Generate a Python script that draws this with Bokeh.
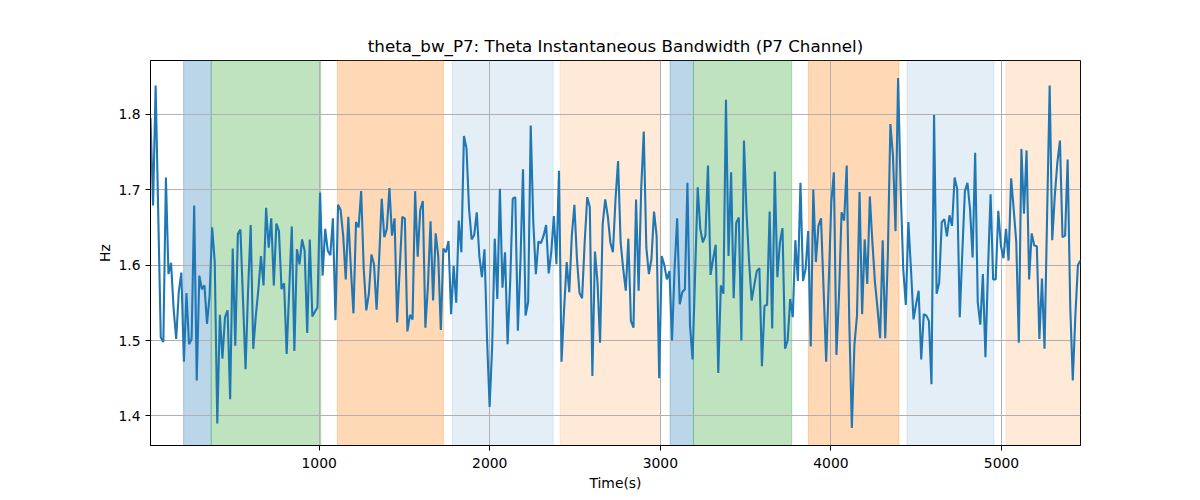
import numpy as np
from bokeh.plotting import figure
from bokeh.models import Range1d, FixedTicker, BoxAnnotation
from bokeh.embed import file_html
from bokeh.resources import INLINE

# Theta instantaneous bandwidth (Hz), P7 channel
theta_bw = [
    1.795, 1.679, 1.838, 1.670, 1.504, 1.498, 1.716, 1.588, 1.603, 1.542,
    1.502, 1.564, 1.590, 1.472, 1.563, 1.495, 1.502, 1.679, 1.447, 1.586,
    1.568, 1.573, 1.522, 1.559, 1.650, 1.604, 1.390, 1.534, 1.476, 1.531,
    1.540, 1.422, 1.622, 1.493, 1.641, 1.647, 1.555, 1.462, 1.568, 1.653,
    1.489, 1.533, 1.568, 1.612, 1.573, 1.676,
    1.623, 1.662, 1.573, 1.655, 1.645, 1.568, 1.576, 1.482, 1.568, 1.651,
    1.486, 1.621, 1.601, 1.634, 1.619, 1.510, 1.634, 1.532, 1.538, 1.544,
    1.696, 1.586, 1.648, 1.619, 1.613, 1.662, 1.527, 1.680, 1.673, 1.639,
    1.581, 1.664, 1.595, 1.536, 1.657, 1.650, 1.698, 1.595, 1.540, 1.562,
    1.614, 1.601, 1.541, 1.608, 1.688,
    1.637, 1.648, 1.702, 1.639, 1.662, 1.524, 1.595, 1.664, 1.662, 1.512,
    1.534, 1.528, 1.698, 1.611, 1.673, 1.685, 1.517, 1.573, 1.658, 1.553,
    1.642, 1.612, 1.514, 1.622, 1.617, 1.632, 1.535, 1.599, 1.550, 1.659,
    1.617, 1.771, 1.755, 1.674, 1.634, 1.640, 1.670, 1.612, 1.584, 1.621,
    1.502, 1.412, 1.493, 1.635, 1.555,
    1.701, 1.570, 1.617, 1.495, 1.577, 1.688, 1.690, 1.513, 1.604, 1.727,
    1.533, 1.551, 1.785, 1.657, 1.588, 1.631, 1.629, 1.639, 1.653, 1.589,
    1.617, 1.665, 1.601, 1.725, 1.472, 1.542, 1.604, 1.564, 1.639, 1.680,
    1.608, 1.563, 1.556, 1.630, 1.690, 1.677, 1.453, 1.618, 1.577, 1.497,
    1.654, 1.687, 1.665, 1.630, 1.617,
    1.687, 1.738, 1.630, 1.595, 1.566, 1.635, 1.526, 1.517, 1.687, 1.566,
    1.701, 1.777, 1.623, 1.588, 1.608, 1.671, 1.639, 1.450, 1.612, 1.600,
    1.581, 1.592, 1.500, 1.595, 1.662, 1.548, 1.564, 1.568, 1.709, 1.520,
    1.475, 1.590, 1.703, 1.648, 1.630, 1.639, 1.732, 1.587, 1.608, 1.627,
    1.457, 1.573, 1.562, 1.819,
    1.612, 1.723, 1.556, 1.656, 1.663, 1.500, 1.765, 1.670, 1.604, 1.553,
    1.573, 1.592, 1.596, 1.466, 1.546, 1.547, 1.671, 1.516, 1.724, 1.584,
    1.630, 1.649, 1.489, 1.500, 1.555, 1.531, 1.633, 1.579, 1.709, 1.579,
    1.595, 1.645, 1.492, 1.700, 1.604, 1.652, 1.662, 1.568, 1.472, 1.577,
    1.683, 1.723, 1.481, 1.560,
    1.670, 1.659, 1.732, 1.524, 1.384, 1.494, 1.533, 1.697, 1.535, 1.634,
    1.575, 1.691, 1.630, 1.577, 1.542, 1.503, 1.633, 1.503, 1.612, 1.787,
    1.745, 1.645, 1.848, 1.701, 1.595, 1.547, 1.657, 1.595, 1.528, 1.548,
    1.566, 1.475, 1.535, 1.533, 1.526, 1.442, 1.799, 1.562, 1.577, 1.657,
    1.661, 1.638, 1.666, 1.652,
    1.716, 1.701, 1.531, 1.617, 1.698, 1.709, 1.674, 1.610, 1.749, 1.551,
    1.521, 1.588, 1.478, 1.595, 1.694, 1.581, 1.581, 1.672, 1.626, 1.609,
    1.648, 1.606, 1.715, 1.674, 1.630, 1.497, 1.754, 1.668, 1.752, 1.581,
    1.642, 1.626, 1.625, 1.502, 1.582, 1.489, 1.665, 1.838, 1.633, 1.692,
    1.736, 1.765, 1.637, 1.639, 1.740, 1.546, 1.447, 1.533, 1.600, 1.606,
]

# evenly sampled time axis (s)
time_first, time_last = 11.0, 5463.0
time_s = np.linspace(time_first, time_last, len(theta_bw))

# shaded intervals (s)
span_start = [205, 367, 1107, 1780, 2413, 3057, 3194, 3868, 4446, 5026]
span_end = [367, 1009, 1728, 2372, 3000, 3194, 3770, 4399, 4956, 5470]
span_color = ["#1f77b4", "#2ca02c", "#ff7f0e", "#1f77b4", "#ff7f0e",
              "#1f77b4", "#2ca02c", "#ff7f0e", "#1f77b4", "#ff7f0e"]
span_alpha = [0.3, 0.3, 0.3, 0.12, 0.16, 0.3, 0.3, 0.3, 0.12, 0.16]

x_ticks = [1000, 2000, 3000, 4000, 5000]
y_ticks = [1.4, 1.5, 1.6, 1.7, 1.8]

FONT = "DejaVu Sans"

p = figure(
    frame_width=930, frame_height=385,
    min_border_left=150, min_border_right=120,
    min_border_top=60, min_border_bottom=55,
    x_range=Range1d(time_first, time_last),
    y_range=Range1d(1.3608, 1.8712),
    title="theta_bw_P7: Theta Instantaneous Bandwidth (P7 Channel)",
    output_backend="svg", toolbar_location=None,
    background_fill_color="white", border_fill_color="white",
)

for s, e, c, a in zip(span_start, span_end, span_color, span_alpha):
    p.add_layout(BoxAnnotation(left=s, right=e, fill_color=c, fill_alpha=a,
                               line_color=c, line_alpha=a, line_width=1,
                               level="image"))

p.line(time_s, theta_bw, line_color="#1f77b4", line_width=2.1)

p.title.align = "center"
p.title.text_font = FONT
p.title.text_font_size = "16.7px"
p.title.text_font_style = "normal"
p.title.text_color = "black"

p.xaxis.ticker = FixedTicker(ticks=x_ticks)
p.yaxis.ticker = FixedTicker(ticks=y_ticks)
p.xaxis.axis_label = "Time(s)"
p.yaxis.axis_label = "Hz"

for ax in (p.xaxis, p.yaxis):
    ax.axis_label_text_font = FONT
    ax.axis_label_text_font_size = "13.9px"
    ax.axis_label_text_font_style = "normal"
    ax.axis_label_text_color = "black"
    ax.major_label_text_font = FONT
    ax.major_label_text_font_size = "13.9px"
    ax.major_label_text_color = "black"
    ax.axis_line_color = "black"
    ax.axis_line_width = 1
    ax.major_tick_line_color = "black"
    ax.major_tick_line_width = 1
    ax.major_tick_out = 5
    ax.major_tick_in = 0
    ax.minor_tick_out = 0
    ax.minor_tick_in = 0

p.xaxis.major_label_standoff = 7
p.xaxis.axis_label_standoff = 4
p.yaxis.major_label_standoff = 5
p.yaxis.axis_label_standoff = 2

p.grid.grid_line_color = "#b0b0b0"
p.grid.grid_line_width = 1
p.outline_line_color = "black"
p.outline_line_width = 1
p.outline_line_alpha = 1

open("out.html", "w").write(file_html(p, INLINE))
